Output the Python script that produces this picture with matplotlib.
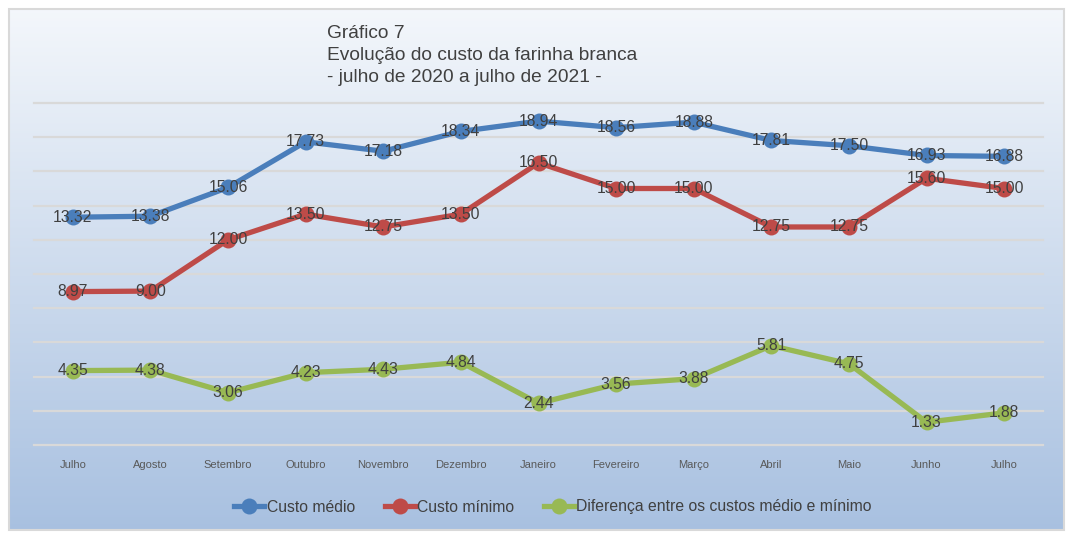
import numpy as np
import matplotlib
matplotlib.use("Agg")
import matplotlib.pyplot as plt
from matplotlib.patches import Rectangle
from matplotlib.lines import Line2D

plt.rcParams['font.family'] = ['Liberation Sans', 'DejaVu Sans']

months = ["Julho", "Agosto", "Setembro", "Outubro", "Novembro", "Dezembro", "Janeiro",
          "Fevereiro", "Março", "Abril", "Maio", "Junho", "Julho"]
custo_medio = [13.32, 13.38, 15.06, 17.73, 17.18, 18.34, 18.94, 18.56, 18.88, 17.81, 17.50, 16.93, 16.88]
custo_minimo = [8.97, 9.00, 12.00, 13.50, 12.75, 13.50, 16.50, 15.00, 15.00, 12.75, 12.75, 15.60, 15.00]
diferenca = [4.35, 4.38, 3.06, 4.23, 4.43, 4.84, 2.44, 3.56, 3.88, 5.81, 4.75, 1.33, 1.88]
series_names = ["Custo médio", "Custo mínimo", "Diferença entre os custos médio e mínimo"]
colors = ["#4a7ebb", "#be4b48", "#98b954"]
title_lines = ["Gráfico 7", "Evolução do custo da farinha branca", "- julho de 2020 a julho de 2021 -"]

W, H = 1072, 534
fig = plt.figure(figsize=(W / 100, H / 100), dpi=100)
fig.patch.set_facecolor("white")

# Background gradient panel
bx0, by0, bx1, by1 = 9, 9, 1064, 530
bg = fig.add_axes([bx0 / W, 1 - by1 / H, (bx1 - bx0) / W, (by1 - by0) / H], zorder=0)
top = np.array([0.955, 0.968, 0.985])
bot = np.array([0.66, 0.755, 0.88])
t = np.linspace(0, 1, 256)[:, None]
grad = top[None, :] * (1 - t) + bot[None, :] * t
grad = np.repeat(grad[:, None, :], 2, axis=1)
bg.imshow(grad, aspect='auto', extent=[0, 1, 0, 1], origin='upper')
bg.set_xlim(0, 1); bg.set_ylim(0, 1)
bg.axis('off')
bg.add_patch(Rectangle((0, 0), 1, 1, fill=False, edgecolor="#d9d9d9", lw=1.5, transform=bg.transAxes, clip_on=False))

# Main axes
left, right, ytop, ybot = 34, 1043, 103, 445
ax = fig.add_axes([left / W, 1 - ybot / H, (right - left) / W, (ybot - ytop) / H], zorder=1)
ax.patch.set_alpha(0)
ax.set_xlim(-0.5, len(months) - 0.5)
ax.set_ylim(0, 20)
for s in ax.spines.values():
    s.set_visible(False)
ax.set_yticks([])
ax.set_xticks(range(len(months)))
ax.set_xticklabels(months, fontsize=8, color="#595959")
ax.tick_params(axis='x', length=0, pad=11)
for yv in np.arange(0, 21, 2):
    ax.axhline(yv, color="#d9d9d9", lw=1.6, zorder=1, clip_on=False)

x = np.arange(len(months))
for vals, c, name in zip([custo_medio, custo_minimo, diferenca], colors, series_names):
    ax.plot(x, vals, color=c, lw=3.8, marker='o', markersize=11.5, markeredgewidth=0,
            solid_capstyle='round', zorder=3, label=name)
    for xi, v in zip(x, vals):
        ax.text(xi, v, f"{v:.2f}", ha='center', va='center', fontsize=11.3, color="#404040", zorder=4)

# Title
for i, line in enumerate(title_lines):
    fig.text(327 / W, 1 - (33 + 22 * i) / H, line, ha='left', va='center', fontsize=13.8, color="#404040")

handles = [Line2D([0], [0], color=c, lw=3.8, marker='o', markersize=11.5, markeredgewidth=0) for c in colors]
fig.legend(handles, series_names, loc='center', bbox_to_anchor=(553 / W, 1 - 507 / H), ncol=3,
           frameon=False, fontsize=11.3, handlelength=1.9, handletextpad=0.15, columnspacing=1.9,
           labelcolor="#404040")

fig.savefig("out.png", dpi=100)
